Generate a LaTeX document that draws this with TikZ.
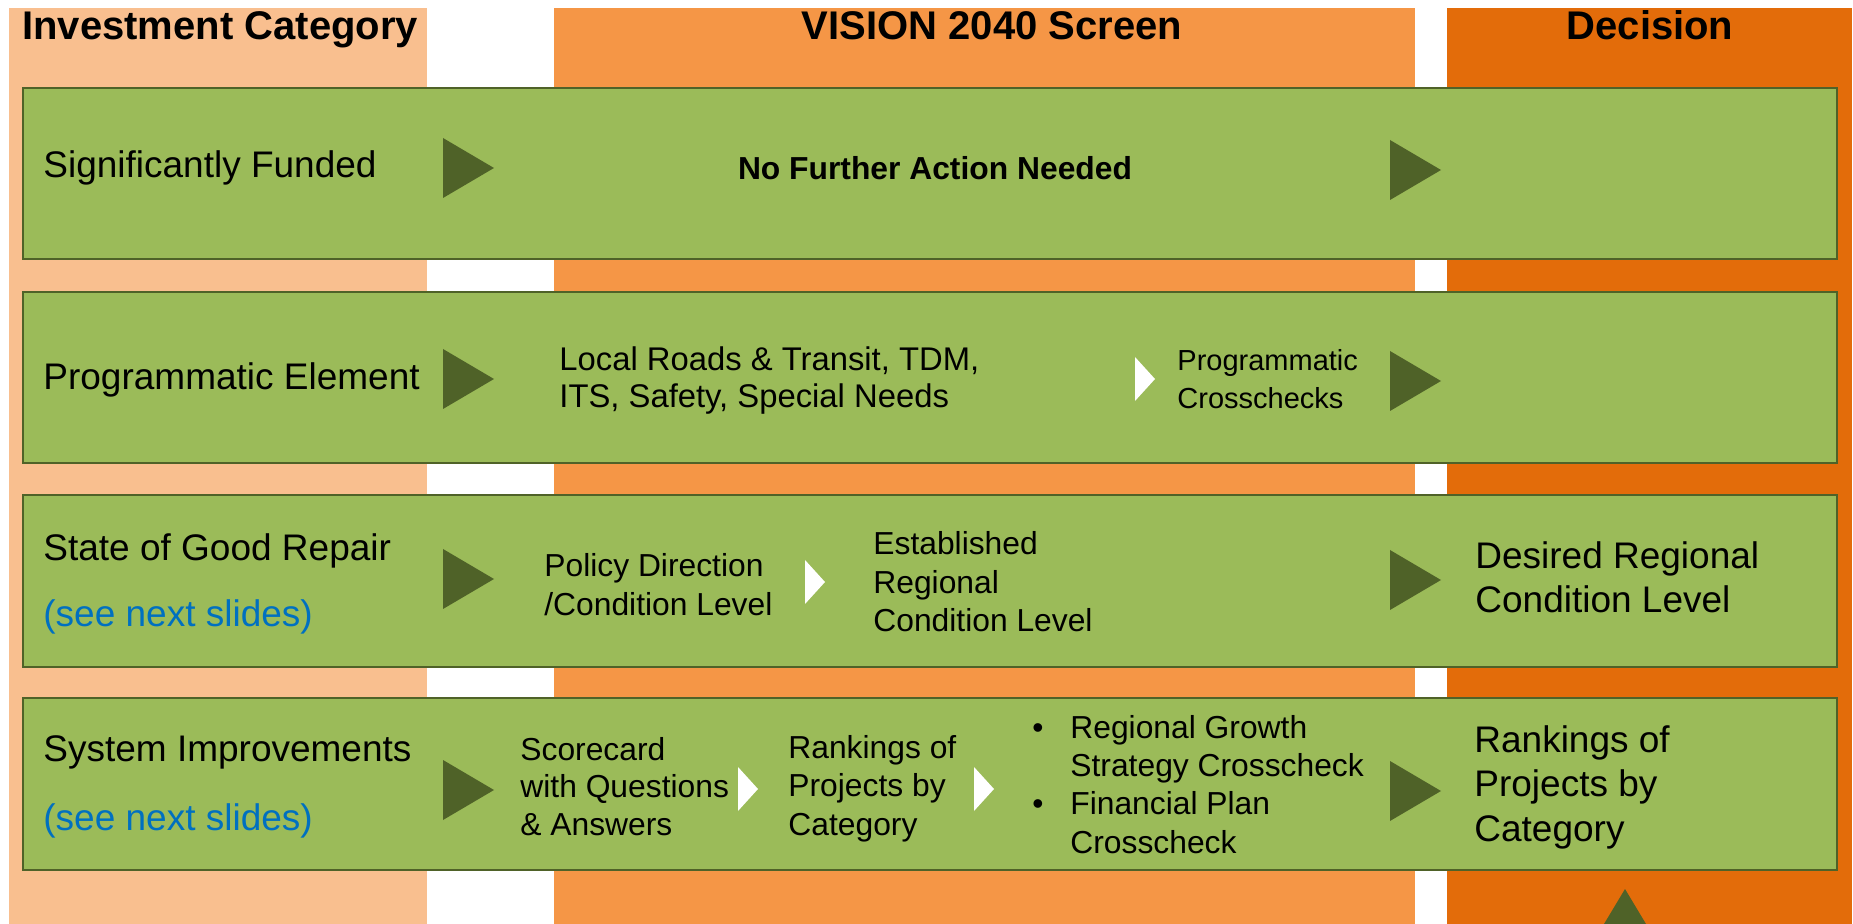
\documentclass[tikz,border=0pt]{standalone}
\usepackage{fontspec}
\setmainfont{Liberation Sans}
\definecolor{peach}{HTML}{F9BF8F}
\definecolor{midorange}{HTML}{F59646}
\definecolor{darkorange}{HTML}{E36C0A}
\definecolor{rowgreen}{HTML}{9BBB59}
\definecolor{olivedark}{HTML}{4F6228}
\definecolor{linkblue}{HTML}{0070C0}
\newcommand\txtlines[1]{\begin{tabular}[t]{@{}l@{}}#1\end{tabular}}
\newcommand\dtri[2]{\fill[olivedark] (#1,{#2-30}) -- ({#1+51},#2) -- (#1,{#2+30}) -- cycle;}
\newcommand\wtri[2]{\fill[white] (#1,{#2-22}) -- ({#1+20},#2) -- (#1,{#2+22}) -- cycle;}
\begin{document}
\begin{tikzpicture}[x=0.5pt,y=-0.5pt,
  rowbox/.style={fill=rowgreen, draw=olivedark, line width=1.2pt},
  hdr/.style={font=\bfseries\fontsize{20pt}{24pt}\selectfont, inner sep=0pt},
  lbl/.style={font=\fontsize{18.5pt}{22pt}\selectfont, inner sep=0pt, anchor=base west},
  body/.style={font=\fontsize{15.9pt}{#1}\selectfont, inner sep=0pt, anchor=base west},
  body/.default=18.75pt,
  big/.style={font=\fontsize{18.5pt}{#1}\selectfont, inner sep=0pt, anchor=base west},
  big/.default=22.25pt,
  small/.style={font=\fontsize{14.5pt}{19pt}\selectfont, inner sep=0pt, anchor=base west}
]
\useasboundingbox (0,0) rectangle (1853,924);
\fill[white] (0,0) rectangle (1853,924);
% columns
\fill[peach] (9,8) rectangle (427,924);
\fill[midorange] (554,8) rectangle (1415,924);
\fill[darkorange] (1447,8) rectangle (1852,924);
% headers
\node[hdr, anchor=base west] (hic) at (22,40) {Investment Category};
\node[hdr, anchor=base] (hvs) at (992,40) {VISION 2040 Screen};
\node[hdr, anchor=base] (hdc) at (1650,40) {Decision};
% rows
\draw[rowbox] (23,88) rectangle (1837,259);
\draw[rowbox] (23,292) rectangle (1837,463);
\draw[rowbox] (23,495) rectangle (1837,667);
\draw[rowbox] (23,698) rectangle (1837,870);
% dark triangles
\dtri{443}{168}
\dtri{443}{379}
\dtri{443}{579}
\dtri{443}{790}
\dtri{1390}{170}
\dtri{1390}{381}
\dtri{1390}{580}
\dtri{1390}{791}
% white triangles
\wtri{1135}{379}
\wtri{805}{582}
\wtri{738}{789}
\wtri{974}{789}
% bottom up triangle
\fill[olivedark] (1625,889) -- (1646,924) -- (1604,924) -- cycle;
% row labels
\node[lbl] (l1) at (43,178) {Significantly Funded};
\node[lbl] (l2) at (43,390) {Programmatic Element};
\node[lbl] (l3) at (43,561) {State of Good Repair};
\node[lbl, text=linkblue] (l3b) at (43,627) {(see next slides)};
\node[lbl] (l4) at (43,762) {System Improvements};
\node[lbl, text=linkblue] (l4b) at (43,830) {(see next slides)};
% row 1
\node[font=\bfseries\fontsize{15.9pt}{18pt}\selectfont, anchor=base, inner sep=0pt] (nf) at (935,180) {No Further Action Needed};
% row 2
\node[font=\fontsize{16.4pt}{18.5pt}\selectfont, inner sep=0pt, anchor=base west] (lr) at (559,371) {\txtlines{Local Roads \& Transit, TDM,\\ITS, Safety, Special Needs}};
\node[small] (pc) at (1177,371) {\txtlines{Programmatic\\Crosschecks}};
% row 3
\node[body=19.5pt] (pd) at (544,577) {\txtlines{Policy Direction\\/Condition Level}};
\node[body=19.25pt] (er) at (873,555) {\txtlines{Established\\Regional\\Condition Level}};
\node[big=22pt] (dr) at (1475,569) {\txtlines{Desired Regional\\Condition Level}};
% row 4
\node[body] (sc) at (520,760) {\txtlines{Scorecard\\with Questions\\\& Answers}};
\node[body=19.25pt] (rk) at (788,758) {\txtlines{Rankings of\\Projects by\\Category}};
\node[body=19.25pt] (bl) at (1032,738) {\begin{tabular}[t]{@{}l@{}l@{}}\makebox[19pt][l]{\textbullet} & Regional Growth\\ & Strategy Crosscheck\\ \makebox[19pt][l]{\textbullet} & Financial Plan\\ & Crosscheck\end{tabular}};
\node[big] (rk2) at (1474,752) {\txtlines{Rankings of\\Projects by\\Category}};
\end{tikzpicture}
\end{document}
